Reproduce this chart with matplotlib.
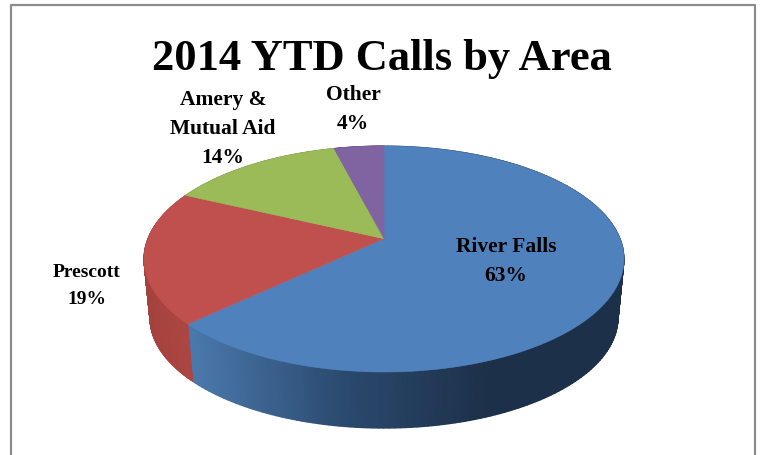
import numpy as np
import matplotlib.pyplot as plt
from matplotlib.colors import LinearSegmentedColormap

names = ["River Falls", "Prescott", "Amery &\nMutual Aid", "Other"]
values = [63, 19, 14, 4]
top_colors = ["#4f81bd", "#c0504d", "#9bbb59", "#8064a2"]
# side wall shading, left to right
side_colors = [["#4a78ab", "#2b4a6f", "#1d3049", "#1d3049"],
               ["#a5423e", "#ad4744"],
               ["#7d9648", "#7d9648"],
               ["#66508a", "#66508a"]]
label_pos = [(506, 262), (87, 286), (223, 129), (353, 110)]
label_size = [15.5, 14, 15.5, 15.5]

# pie geometry in pixels
cx, cy, rx, ry = 384, 260, 240, 113
persp = 0.18
depth = 59
shrink = 0.975

fig = plt.figure(figsize=(7.6, 4.56), dpi=100)
ax = fig.add_axes([0, 0, 1, 1])
ax.set_xlim(0, 760)
ax.set_ylim(456, 0)
ax.axis("off")


def project(t):
    # circle seen in perspective: the far side is squeezed
    x = np.sin(t)
    y = np.cos(t)
    d = 1 + persp * y
    return x * np.sqrt(1 - persp ** 2) / d, (y + persp) / d


edges = np.cumsum([0] + values) / sum(values) * 2 * np.pi

# side wall first, the top covers whatever is behind
for i in range(len(values)):
    t = np.linspace(edges[i], edges[i + 1], 200)
    px, py = project(t)
    x_top = cx + rx * px
    y_top = cy - ry * py
    x_bot = cx + rx * shrink * px
    y_bot = cy + depth - ry * shrink * py
    X = np.array([x_top, x_bot])
    Y = np.array([y_top, y_bot])
    cmap = LinearSegmentedColormap.from_list("side", side_colors[i])
    # colour runs with x, over the stretch of wall that can be seen
    C = np.array([x_top, x_top])
    low = 194 if i == 0 else 145
    high = 640 if i == 0 else 195
    ax.pcolormesh(X, Y, C, cmap=cmap, vmin=low, vmax=high, shading="gouraud")

# top face
for i in range(len(values)):
    t = np.linspace(edges[i], edges[i + 1], 200)
    px, py = project(t)
    ax.fill(np.r_[cx, cx + rx * px], np.r_[cy - ry * persp, cy - ry * py],
            color=top_colors[i], lw=0.4)

ax.text(382, 59, "2014 YTD Calls by Area", family="Liberation Serif", weight="bold",
        fontsize=32, ha="center", va="center", color="black")

for name, val, pos, size in zip(names, values, label_pos, label_size):
    # same line pitch for every label, whatever its size
    ax.text(pos[0], pos[1], f"{name}\n{val}%", family="Liberation Serif", weight="bold",
            fontsize=size, ha="center", va="center", linespacing=1.6 * 15.5 / size,
            color="black")

# chart border, the bottom is cut off
ax.plot([11, 11, 755, 755], [456, 6, 6, 456], color="#8c8c8c", lw=1.6, clip_on=False)

fig.savefig("out.png", dpi=100)
